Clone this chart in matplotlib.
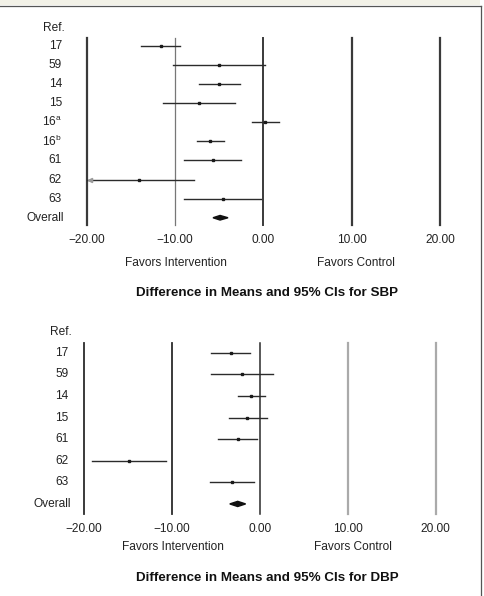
import matplotlib
matplotlib.use("Agg")
import matplotlib.pyplot as plt
from matplotlib.lines import Line2D
from matplotlib.patches import Rectangle

plt.rcParams['font.family'] = ['Liberation Sans', 'DejaVu Sans']
plt.rcParams['mathtext.fontset'] = 'custom'
plt.rcParams['mathtext.rm'] = 'Liberation Sans'

# SBP data (difference in means, 95% CI)
sbp_refs = ["17", "59", "14", "15", "16$^{\\mathrm{a}}$", "16$^{\\mathrm{b}}$", "61", "62", "63"]
sbp_est = [-11.6, -5.0, -5.0, -7.3, 0.2, -6.0, -5.7, -14.1, -4.6]
sbp_lo = [-13.9, -10.2, -7.3, -11.4, -1.3, -7.5, -9.0, -20.0, -9.0]
sbp_hi = [-9.4, 0.2, -2.7, -3.2, 1.8, -4.4, -2.5, -7.9, -0.3]
sbp_overall = (-5.7, -4.9, -4.0)

# DBP data
dbp_refs = ["17", "59", "14", "15", "61", "62", "63"]
dbp_est = [-3.3, -2.0, -1.0, -1.4, -2.5, -14.8, -3.2]
dbp_lo = [-5.5, -5.5, -2.5, -3.5, -4.7, -19.0, -5.6]
dbp_hi = [-1.1, 1.5, 0.6, 0.8, -0.3, -10.6, -0.7]
dbp_overall = (-3.4, -2.5, -1.6)

xticks = [-20, -10, 0, 10, 20]
xticklabels = ["\u221220.00", "\u221210.00", "0.00", "10.00", "20.00"]

W, H = 484, 596
FS = 8.6
fig = plt.figure(figsize=(W / 100, H / 100), dpi=100)

# frame decoration
fig.add_artist(Rectangle((0, 1 - 5 / H), 480 / W, 5 / H, transform=fig.transFigure,
                         facecolor="#f2f1e7", edgecolor="none"))
fig.add_artist(Line2D([0, 481 / W], [1 - 5.5 / H] * 2, transform=fig.transFigure,
                      color="#555555", lw=0.9))
fig.add_artist(Line2D([480.5 / W] * 2, [0, 1 - 5.5 / H], transform=fig.transFigure,
                      color="#555555", lw=0.9))


def forest(ax_px, refs, est, lo, hi, overall, line_styles, label_off, title, title_y, fav_y):
    x0, x1, ytop, ybot, ytop_i, ybot_i = ax_px
    ax = fig.add_axes([x0 / W, 1 - ybot / H, (x1 - x0) / W, (ybot - ytop) / H])
    n = len(refs)
    ax.set_xlim(-20, 20)
    ax.set_ylim(ybot_i, ytop_i)
    for xv, (c, lw) in zip(xticks, line_styles):
        ax.axvline(xv, color=c, lw=lw, clip_on=False, zorder=1)
    for i in range(n):
        ax.plot([lo[i], hi[i]], [i, i], color="#2b2b2b", lw=1.0, zorder=3)
        ax.plot(est[i], i, marker="s", ms=2.0, color="#1a1a1a", zorder=4)
        ax.text(label_off, i, refs[i], transform=ax.get_yaxis_transform(),
                ha="right", va="center", fontsize=FS, color="#222222")
    lo_o, mid_o, hi_o = overall
    ax.fill([lo_o, mid_o, hi_o, mid_o], [n, n - 0.12, n, n + 0.12], color="#111111", zorder=4)
    ax.text(label_off + 0.006, n, "Overall", transform=ax.get_yaxis_transform(),
            ha="right", va="center", fontsize=FS, color="#222222")
    ax.text(label_off + 0.008, -0.95, "Ref.", transform=ax.get_yaxis_transform(),
            ha="right", va="center", fontsize=FS, color="#222222")
    ax.set_xticks(xticks)
    ax.set_xticklabels(xticklabels, fontsize=FS, color="#222222")
    ax.tick_params(axis="x", length=0, pad=6.5)
    ax.set_yticks([])
    for s in ax.spines.values():
        s.set_visible(False)
    ax.patch.set_visible(False)
    fig.text((x0 + 89) / W, 1 - fav_y / H, "Favors Intervention", ha="center",
             va="center", fontsize=FS, color="#222222")
    fig.text((x0 + 269) / W, 1 - fav_y / H, "Favors Control", ha="center",
             va="center", fontsize=FS, color="#222222")
    fig.text(267 / W, 1 - title_y / H, title, ha="center", va="center",
             fontsize=9.6, fontweight="bold", color="#111111")
    return ax


top = forest((86.7, 440, 37.7, 225, -0.435, 9.38), sbp_refs, sbp_est, sbp_lo, sbp_hi, sbp_overall,
             [("#3a3a3a", 1.6), ("#777777", 0.9), ("#3a3a3a", 1.4), ("#3a3a3a", 1.6), ("#3a3a3a", 1.6)],
             -0.07, "Difference in Means and 95% CIs for SBP", 293.3, 262.7)
# truncation arrow for ref 62
top.plot(-19.6, 7, marker="<", ms=3, color="#999999", zorder=4)

bot = forest((83.7, 435.7, 343.3, 514.3, -0.435, 7.48), dbp_refs, dbp_est, dbp_lo, dbp_hi, dbp_overall,
             [("#2b2b2b", 1.3), ("#2b2b2b", 1.3), ("#2b2b2b", 1.1), ("#aaaaaa", 1.6), ("#aaaaaa", 1.6)],
             -0.043, "Difference in Means and 95% CIs for DBP", 577.7, 547.3)

fig.savefig("out.png", dpi=100)
